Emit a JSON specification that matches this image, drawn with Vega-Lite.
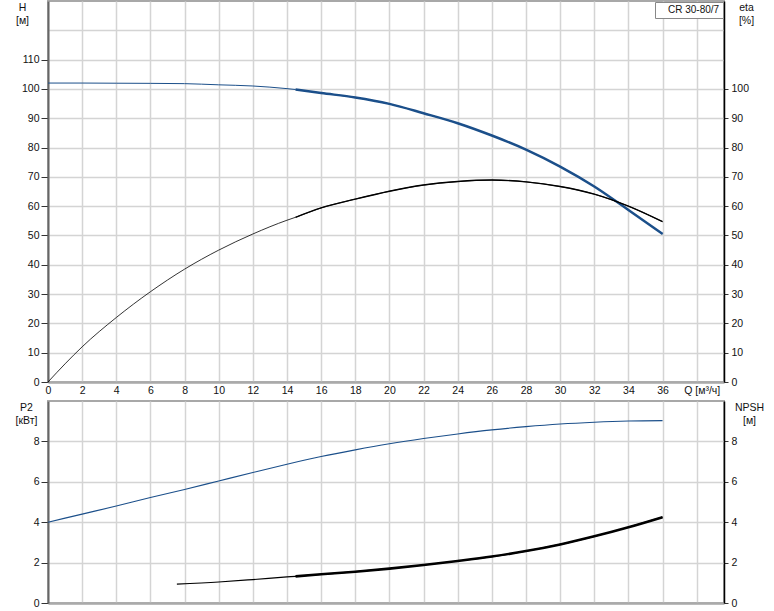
{
  "$schema": "https://vega.github.io/schema/vega-lite/v6.json",
  "padding": {"left": 14, "top": 0, "right": 5, "bottom": 5},
  "bounds": "flush",
  "spacing": 19,
  "config": {
    "font": "Liberation Sans",
    "view": {"stroke": "#a8a8a8", "strokeWidth": 2},
    "axis": {
      "labelFont": "Liberation Sans", "labelFontSize": 10.5, "labelColor": "#111",
      "titleFont": "Liberation Sans", "titleFontSize": 10.5, "titleFontWeight": "normal", "titleColor": "#111",
      "titleLineHeight": 13,
      "gridColor": "#d4d4d4", "gridWidth": 1.5, "labelFlush": false, "labelOverlap": false, "tickColor": "#333"
    },
    "line": {"interpolate": "monotone"}
  },
  "datasets": {
    "H": [
      {"Q": 0, "value": 102.0}, {"Q": 2, "value": 102.0}, {"Q": 4, "value": 101.95}, {"Q": 6, "value": 101.9},
      {"Q": 8, "value": 101.8}, {"Q": 10, "value": 101.4}, {"Q": 12, "value": 101.0}, {"Q": 14, "value": 100.1},
      {"Q": 14.5, "value": 99.8}, {"Q": 16, "value": 98.6}, {"Q": 18, "value": 97.1}, {"Q": 20, "value": 94.9},
      {"Q": 22, "value": 91.7}, {"Q": 24, "value": 88.3}, {"Q": 26, "value": 84.1}, {"Q": 28, "value": 79.3},
      {"Q": 30, "value": 73.5}, {"Q": 32, "value": 66.7}, {"Q": 34, "value": 58.7}, {"Q": 36, "value": 50.5}
    ],
    "eta": [
      {"Q": 0, "value": 0}, {"Q": 1, "value": 6.2}, {"Q": 2, "value": 12}, {"Q": 4, "value": 22},
      {"Q": 6, "value": 30.8}, {"Q": 8, "value": 38.5}, {"Q": 10, "value": 45}, {"Q": 12, "value": 50.5},
      {"Q": 14, "value": 55.2}, {"Q": 14.5, "value": 56.2}, {"Q": 16, "value": 59.4}, {"Q": 18, "value": 62.4},
      {"Q": 20, "value": 65.1}, {"Q": 22, "value": 67.2}, {"Q": 24, "value": 68.4}, {"Q": 26, "value": 68.9},
      {"Q": 28, "value": 68.3}, {"Q": 30, "value": 66.7}, {"Q": 32, "value": 64.1}, {"Q": 34, "value": 60.0},
      {"Q": 36, "value": 54.7}
    ],
    "P2": [
      {"Q": 0, "value": 4.0}, {"Q": 2, "value": 4.4}, {"Q": 4, "value": 4.8}, {"Q": 6, "value": 5.22},
      {"Q": 8, "value": 5.62}, {"Q": 10, "value": 6.04}, {"Q": 12, "value": 6.46}, {"Q": 14, "value": 6.87},
      {"Q": 16, "value": 7.25}, {"Q": 18, "value": 7.58}, {"Q": 20, "value": 7.88}, {"Q": 22, "value": 8.14},
      {"Q": 24, "value": 8.37}, {"Q": 26, "value": 8.57}, {"Q": 28, "value": 8.73}, {"Q": 30, "value": 8.86},
      {"Q": 32, "value": 8.95}, {"Q": 34, "value": 9.01}, {"Q": 36, "value": 9.03}
    ],
    "NPSH": [
      {"Q": 7.55, "value": 0.93}, {"Q": 10, "value": 1.04}, {"Q": 12, "value": 1.16}, {"Q": 14, "value": 1.29},
      {"Q": 14.5, "value": 1.32}, {"Q": 16, "value": 1.42}, {"Q": 18, "value": 1.55}, {"Q": 20, "value": 1.7},
      {"Q": 22, "value": 1.88}, {"Q": 24, "value": 2.08}, {"Q": 26, "value": 2.3}, {"Q": 28, "value": 2.57},
      {"Q": 30, "value": 2.9}, {"Q": 32, "value": 3.3}, {"Q": 34, "value": 3.75}, {"Q": 36, "value": 4.25}
    ]
  },
  "vconcat": [
    {
      "width": 676,
      "height": 381,
      "encoding": {
        "x": {
          "field": "Q", "type": "quantitative",
          "scale": {"domain": [0, 39.6], "nice": false, "zero": false},
          "axis": {
            "values": [0, 2, 4, 6, 8, 10, 12, 14, 16, 18, 20, 22, 24, 26, 28, 30, 32, 34, 36, 38],
            "grid": true, "ticks": false, "domainColor": "#aaaaaa", "domainWidth": 2.5,
            "labelPadding": 3, "title": null,
            "labelExpr": "datum.value == 38 ? 'Q [м³/ч]' : datum.label",
            "labelOffset": {"condition": {"test": "datum.value == 38", "value": 5}, "value": 0}
          }
        }
      },
      "layer": [
        {
          "data": {"name": "H"},
          "encoding": {
            "y": {
              "field": "value", "type": "quantitative",
              "scale": {"domain": [0, 130], "nice": false},
              "axis": {
                "values": [0, 10, 20, 30, 40, 50, 60, 70, 80, 90, 100, 110, 120],
                "labelExpr": "datum.value > 110 ? '' : datum.label",
                "tickOpacity": {"condition": {"test": "datum.value > 110", "value": 0}, "value": 1},
                "grid": true, "tickSize": 7, "labelPadding": 2,
                "domainColor": "#666666", "domainWidth": 2,
                "title": ["H", "[м]"], "titleAngle": 0, "titleAlign": "center", "titleBaseline": "top",
                "titleX": -26, "titleY": 1
              }
            }
          },
          "layer": [
            {"mark": {"type": "line", "color": "#1b4f8a", "strokeWidth": 1}},
            {
              "transform": [{"filter": "datum.Q >= 14.5"}],
              "mark": {"type": "line", "strokeWidth": 2.5},
              "encoding": {
                "color": {
                  "datum": "CR 30-80/7", "type": "nominal",
                  "scale": {"range": ["#1b4f8a"]},
                  "legend": {
                    "orient": "top-right", "title": null, "symbolSize": 0, "symbolOpacity": 0,
                    "symbolStrokeWidth": 0, "labelOffset": 0, "padding": 3,
                    "strokeColor": "#888888", "fillColor": "white",
                    "offset": 1, "labelFontSize": 10, "labelColor": "#111", "labelFont": "Liberation Sans"
                  }
                }
              }
            }
          ]
        },
        {
          "data": {"name": "eta"},
          "encoding": {
            "y": {
              "field": "value", "type": "quantitative",
              "scale": {"domain": [0, 130], "nice": false},
              "axis": {
                "orient": "right",
                "values": [0, 10, 20, 30, 40, 50, 60, 70, 80, 90, 100],
                "grid": false, "tickSize": 4, "labelPadding": 3,
                "domainColor": "#000000", "domainWidth": 1.5,
                "title": ["eta", "[%]"], "titleAngle": 0, "titleAlign": "center", "titleBaseline": "top",
                "titleX": 22, "titleY": 1
              }
            }
          },
          "layer": [
            {"mark": {"type": "line", "color": "#000000", "strokeWidth": 0.8}},
            {
              "transform": [{"filter": "datum.Q >= 14.5"}],
              "mark": {"type": "line", "color": "#000000", "strokeWidth": 1.4}
            }
          ]
        }
      ],
      "resolve": {"scale": {"y": "independent"}}
    },
    {
      "width": 676,
      "height": 202,
      "encoding": {
        "x": {
          "field": "Q", "type": "quantitative",
          "scale": {"domain": [0, 39.6], "nice": false, "zero": false},
          "axis": {
            "values": [0, 2, 4, 6, 8, 10, 12, 14, 16, 18, 20, 22, 24, 26, 28, 30, 32, 34, 36, 38],
            "grid": true, "ticks": false, "labels": false, "domainColor": "#aaaaaa", "domainWidth": 2.5,
            "title": null
          }
        }
      },
      "layer": [
        {
          "data": {"name": "P2"},
          "mark": {"type": "line", "color": "#1b4f8a", "strokeWidth": 1.1},
          "encoding": {
            "y": {
              "field": "value", "type": "quantitative",
              "scale": {"domain": [0, 10], "nice": false},
              "axis": {
                "values": [0, 2, 4, 6, 8],
                "grid": true, "tickSize": 7, "labelPadding": 2,
                "domainColor": "#666666", "domainWidth": 2,
                "title": ["P2", "[кВт]"], "titleAngle": 0, "titleAlign": "center", "titleBaseline": "top",
                "titleX": -22, "titleY": 1
              }
            }
          }
        },
        {
          "data": {"name": "NPSH"},
          "encoding": {
            "y": {
              "field": "value", "type": "quantitative",
              "scale": {"domain": [0, 10], "nice": false},
              "axis": {
                "orient": "right",
                "values": [0, 2, 4, 6, 8],
                "grid": false, "tickSize": 4, "labelPadding": 3,
                "domainColor": "#000000", "domainWidth": 1.5,
                "title": ["NPSH", "[м]"], "titleAngle": 0, "titleAlign": "center", "titleBaseline": "top",
                "titleX": 25, "titleY": 1
              }
            }
          },
          "layer": [
            {"mark": {"type": "line", "color": "#000000", "strokeWidth": 1.2}},
            {
              "transform": [{"filter": "datum.Q >= 14.5"}],
              "mark": {"type": "line", "color": "#000000", "strokeWidth": 2.6}
            }
          ]
        }
      ],
      "resolve": {"scale": {"y": "independent"}}
    }
  ]
}
